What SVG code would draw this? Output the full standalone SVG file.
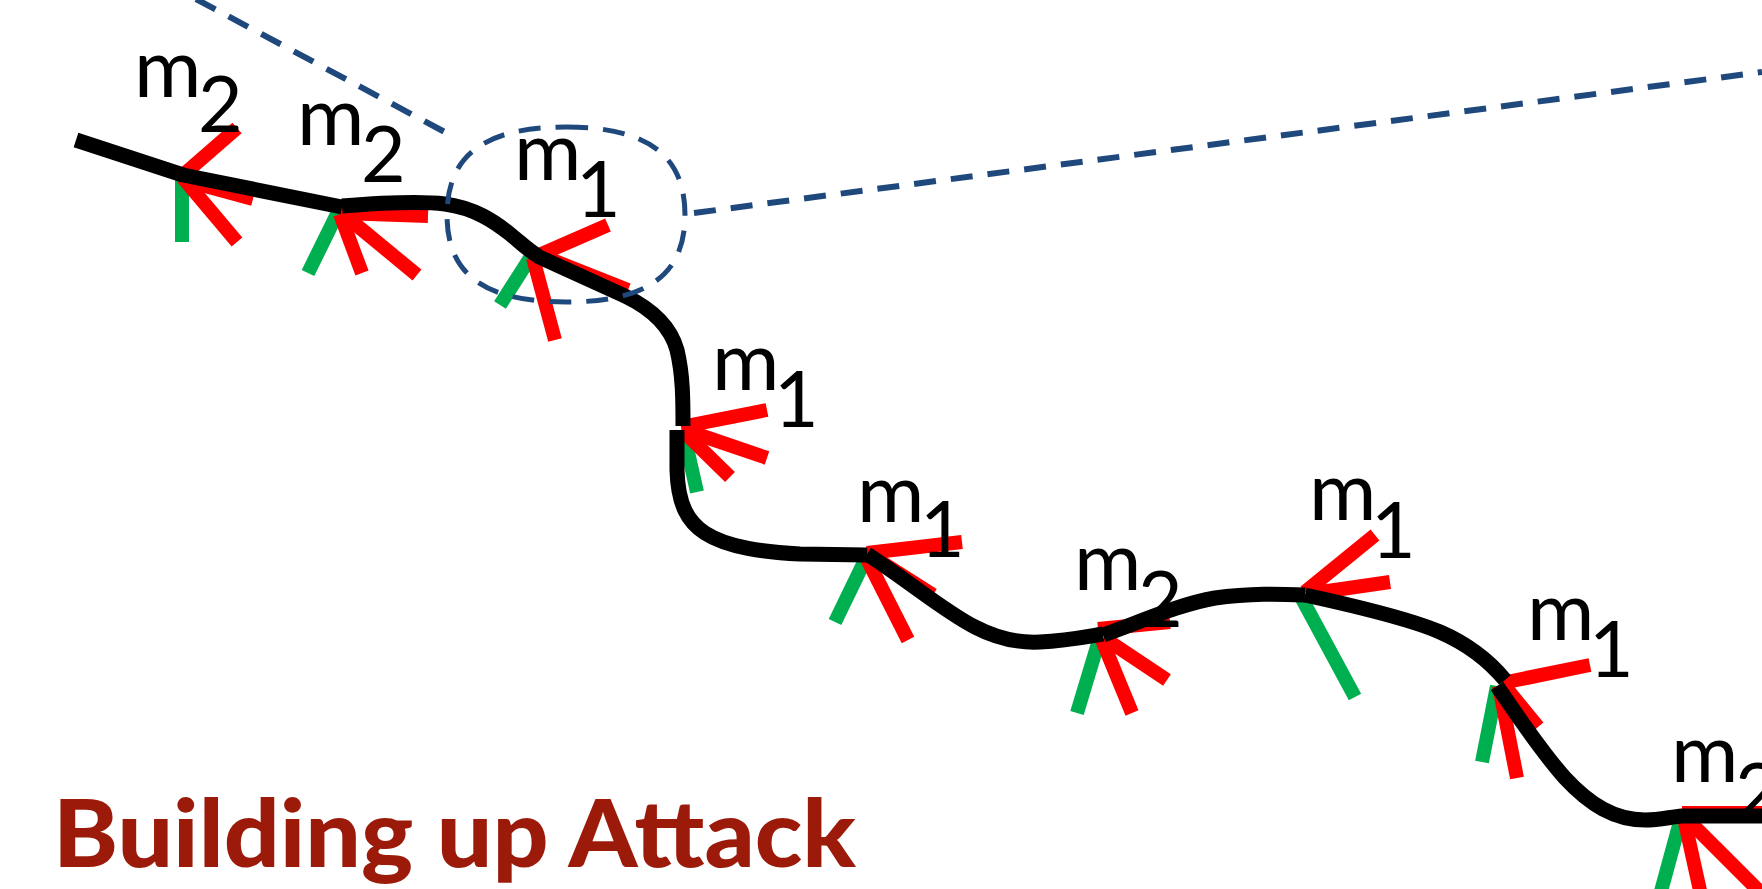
<svg xmlns="http://www.w3.org/2000/svg" width="1762" height="889" viewBox="0 0 1762 889">
<style>
.g{stroke:#00B050;stroke-width:14;fill:none;stroke-linecap:butt}
.r{stroke:#FF0000;stroke-width:14;fill:none;stroke-linecap:butt}
.k{stroke:#000;stroke-width:15;fill:none;stroke-linecap:butt;stroke-linejoin:round}
.d{stroke:#1F497D;stroke-width:6;fill:none;stroke-dasharray:22 15}
.e{stroke:#1F497D;stroke-width:5;fill:none;stroke-dasharray:22 15}
.m{font-family:Lato,"Liberation Sans",sans-serif;font-size:82px;fill:#000}
.s{font-family:Lato,"Liberation Sans",sans-serif;font-size:77px;fill:#000}
.t{font-family:Lato,"Liberation Sans",sans-serif;font-weight:900;font-size:94px;fill:#9B1A0A}
</style>
<rect width="1762" height="889" fill="#fff"/>
<g id="zoom-lines">
<path class="d" d="M196,-1 L456,138"/>
<path class="d" d="M694,213 L1762,72"/>
</g>
<g id="frame1">
<path class="g" d="M182,176 L182,242"/>
<path class="r" d="M183,175 L237,128"/>
<path class="r" d="M183,178 L237,242"/>
<path class="r" d="M183,180 L253,199"/>
<text class="m" x="134" y="97">m</text><text class="s" x="198" y="132">2</text>
</g>
<g id="frame2">
<path class="g" d="M338,212 L308,273"/>
<path class="r" d="M340,214 L362,273"/>
<path class="r" d="M343,214 L417,275"/>
<path class="r" d="M340,213 L428,216"/>
<text class="m" x="297" y="145">m</text><text class="s" x="361" y="182">2</text>
</g>
<g id="frame3">
<path class="r" d="M537,256 L608,225"/>
<path class="g" d="M530,258 L500,305"/>
<path class="r" d="M533,258 L555,340"/>
<path class="r" d="M537,254 L628,290"/>
<text class="m" x="514" y="180">m</text><text class="s" x="576" y="217">1</text>
</g>
<g id="frame4">
<path class="g" d="M683,430 L697,492"/>
<path class="r" d="M681,427 L767,410"/>
<path class="r" d="M682,429 L767,458"/>
<path class="r" d="M683,431 L730,477"/>
<text class="m" x="712" y="390">m</text><text class="s" x="774" y="427">1</text>
</g>
<g id="frame5">
<path class="g" d="M866,558 L835,622"/>
<path class="r" d="M867,553 L962,542"/>
<path class="r" d="M870,555 L933,595"/>
<path class="r" d="M866,557 L908,640"/>
<text class="m" x="857" y="522">m</text><text class="s" x="920" y="557">1</text>
</g>
<g id="frame6">
<path class="g" d="M1099,640 L1077,713"/>
<path class="r" d="M1098,629 L1170,622"/>
<path class="r" d="M1104,638 L1167,680"/>
<path class="r" d="M1102,640 L1132,713"/>
<text class="m" x="1074" y="590">m</text><text class="s" x="1138" y="627">2</text>
</g>
<g id="frame7">
<path class="g" d="M1301,597 L1355,697"/>
<path class="r" d="M1305,592 L1375,535"/>
<path class="r" d="M1307,594 L1390,582"/>
<text class="m" x="1309" y="520">m</text><text class="s" x="1371" y="558">1</text>
</g>
<g id="frame8">
<path class="g" d="M1497,686 L1482,762"/>
<path class="r" d="M1502,683 L1590,665"/>
<path class="r" d="M1503,684 L1538,727"/>
<path class="r" d="M1499,686 L1517,778"/>
<text class="m" x="1527" y="640">m</text><text class="s" x="1589" y="677">1</text>
</g>
<g id="frame9">
<path class="g" d="M1681,818 L1660,895"/>
<path class="r" d="M1684,818 L1701,895"/>
<path class="r" d="M1686,818 L1762,894"/>
<path class="r" d="M1682,813 L1762,813"/>
<text class="m" x="1671" y="782">m</text><text class="s" x="1735" y="819">2</text>
</g>
<g id="trajectory">
<path class="k" d="M76,140 L183,175 L342,207"/>
<path class="k" d="M342,206 C380,203 420,201 445,204 C475,208 495,222 510,234 C520,242 528,250 538,256"/>
<path class="k" d="M537,256 L625,296 C650,308 670,325 677,350 C683,375 683,400 683,426"/>
<path class="k" d="M677,430 L677,470 C678,505 688,522 705,533 C728,548 765,552 800,554 L867,555"/>
<path class="k" d="M867,554 C910,582 945,612 975,627 C1000,640 1020,643 1040,642 C1065,641 1085,637 1103,634"/>
<path class="k" d="M1103,635 C1140,622 1180,604 1215,598 C1250,593 1280,594 1305,595"/>
<path class="k" d="M1305,595 C1360,607 1410,619 1440,632 C1470,645 1490,662 1505,680"/>
<path class="k" d="M1497,686 C1515,712 1540,750 1565,778 C1590,805 1615,820 1645,820 C1660,820 1670,817 1682,816 L1762,816"/>
</g>
<g id="highlight">
<path class="e" d="M566,127 C647,127 685,155 685,215 C685,275 647,302 566,302 C485,302 447,275 447,215 C447,155 485,127 566,127 Z"/>
</g>
<text id="title" class="t" x="53" y="867" textLength="803" lengthAdjust="spacingAndGlyphs">Building up Attack</text>
</svg>
